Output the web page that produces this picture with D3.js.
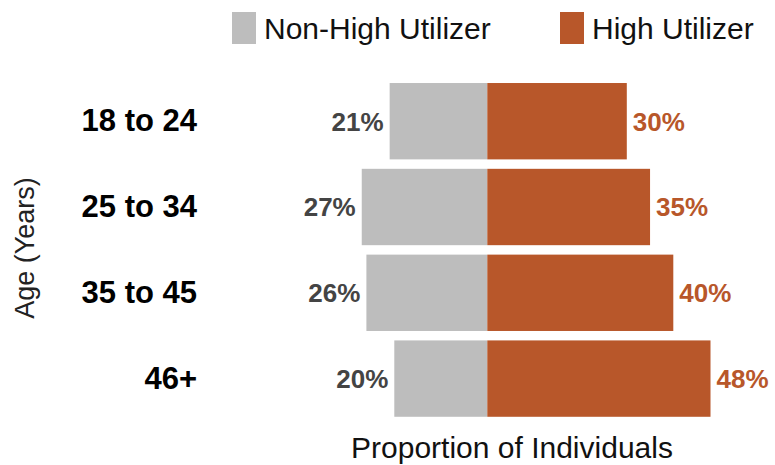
<!DOCTYPE html>
<html>
<head>
<meta charset="utf-8">
<script src="https://cdn.jsdelivr.net/npm/d3@7"></script>
<style>
  body { margin: 0; background: #fff; }
  text { font-family: "Liberation Sans", Arial, sans-serif; }
</style>
</head>
<body>
<div id="chart"></div>
<script>
var ageGroups = ["18 to 24", "25 to 34", "35 to 45", "46+"];
var nonHigh = [0.21, 0.27, 0.26, 0.20];
var high = [0.30, 0.35, 0.40, 0.48];
var seriesNames = ["Non-High Utilizer", "High Utilizer"];

var width = 775, height = 465;
var grey = "#bdbdbd", orange = "#b8572a";

var svg = d3.select("#chart").append("svg")
  .attr("width", width)
  .attr("height", height);

var x = d3.scaleLinear().domain([-0.30, 0.50]).range([347.8, 719.8]);
var y = d3.scaleBand().domain(ageGroups).range([78.3, 421.5])
  .paddingInner(0.11).paddingOuter(0.055);

var rows = ageGroups.map(function (g, i) {
  return {age: g, low: nonHigh[i], high: high[i]};
});

var fmt = d3.format(".0%");

// grey bars go left from zero
svg.selectAll(".bar-low")
  .data(rows)
  .enter().append("rect")
  .attr("class", "bar-low")
  .attr("x", function (d) { return x(-d.low); })
  .attr("y", function (d) { return y(d.age); })
  .attr("width", function (d) { return x(0) - x(-d.low); })
  .attr("height", y.bandwidth())
  .attr("fill", grey);

svg.selectAll(".bar-high")
  .data(rows)
  .enter().append("rect")
  .attr("class", "bar-high")
  .attr("x", x(0))
  .attr("y", function (d) { return y(d.age); })
  .attr("width", function (d) { return x(d.high) - x(0); })
  .attr("height", y.bandwidth())
  .attr("fill", orange);

svg.selectAll(".lbl-low")
  .data(rows)
  .enter().append("text")
  .attr("class", "lbl-low")
  .attr("x", function (d) { return x(-d.low) - 6; })
  .attr("y", function (d) { return y(d.age) + y.bandwidth() / 2; })
  .attr("dy", "0.36em")
  .attr("text-anchor", "end")
  .attr("font-size", 26)
  .attr("font-weight", "bold")
  .attr("fill", "#444")
  .text(function (d) { return fmt(d.low); });

svg.selectAll(".lbl-high")
  .data(rows)
  .enter().append("text")
  .attr("class", "lbl-high")
  .attr("x", function (d) { return x(d.high) + 6; })
  .attr("y", function (d) { return y(d.age) + y.bandwidth() / 2; })
  .attr("dy", "0.36em")
  .attr("font-size", 26)
  .attr("font-weight", "bold")
  .attr("fill", orange)
  .text(function (d) { return fmt(d.high); });

// category axis, no line or ticks
var yAxis = svg.append("g")
  .attr("transform", "translate(197,0)")
  .call(d3.axisLeft(y).tickSize(0).tickPadding(0));
yAxis.select(".domain").remove();
yAxis.selectAll("text")
  .attr("font-size", 31)
  .attr("font-weight", "bold")
  .attr("fill", "#000")
  .style("font-family", "'Liberation Sans', Arial, sans-serif");

svg.append("text")
  .attr("transform", "translate(34,248) rotate(-90)")
  .attr("text-anchor", "middle")
  .attr("font-size", 27)
  .attr("fill", "#222")
  .text("Age (Years)");

svg.append("text")
  .attr("x", 512)
  .attr("y", 458)
  .attr("text-anchor", "middle")
  .attr("font-size", 30)
  .attr("fill", "#111")
  .text("Proportion of Individuals");

// legend
var legend = svg.append("g");
var legendX = [232, 560];
seriesNames.forEach(function (name, i) {
  legend.append("rect")
    .attr("x", legendX[i])
    .attr("y", 12)
    .attr("width", 24)
    .attr("height", 32)
    .attr("fill", i === 0 ? grey : orange);
  legend.append("text")
    .attr("x", legendX[i] + 32)
    .attr("y", 39)
    .attr("font-size", 30)
    .attr("fill", "#111")
    .text(name);
});
</script>
</body>
</html>
